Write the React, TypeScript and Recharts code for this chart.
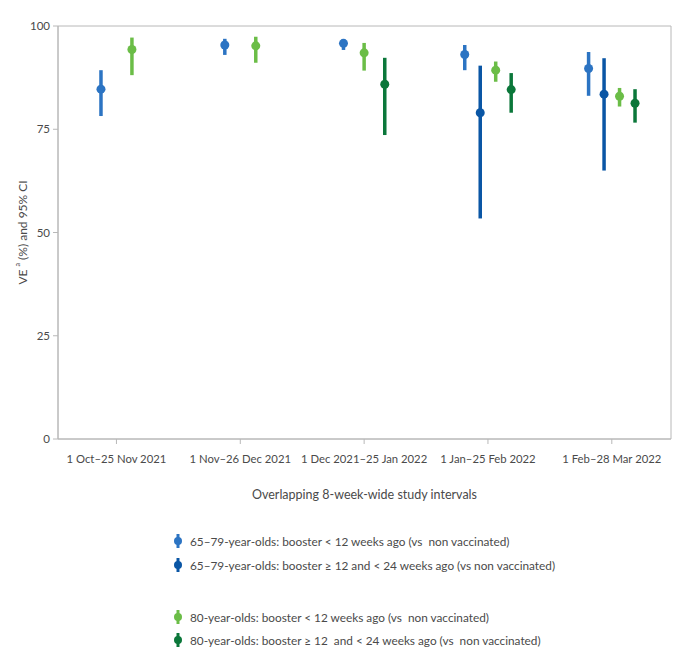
import React from "react";
import {
  ComposedChart,
  Scatter,
  ErrorBar,
  XAxis,
  YAxis,
  ReferenceArea,
  Label,
} from "recharts";

// Overlapping 8-week study intervals
const intervals = [
  "1 Oct–25 Nov 2021",
  "1 Nov–26 Dec 2021",
  "1 Dec 2021–25 Jan 2022",
  "1 Jan–25 Feb 2022",
  "1 Feb–28 Mar 2022",
];

const yTicks = [0, 25, 50, 75, 100];

// VE (%) point estimates and 95% CI bounds, null = not estimated
const ve6579Recent = [84.7, 95.4, 95.8, 93.1, 89.7];
const lo6579Recent = [78.2, 93.0, 94.2, 89.3, 83.1];
const hi6579Recent = [89.3, 96.9, 96.8, 95.4, 93.7];

const ve6579Older = [null, null, null, 79.0, 83.5];
const lo6579Older = [null, null, null, 53.4, 65.0];
const hi6579Older = [null, null, null, 90.4, 92.2];

const ve80Recent = [94.3, 95.2, 93.5, 89.3, 83.0];
const lo80Recent = [88.1, 91.1, 89.2, 86.5, 80.5];
const hi80Recent = [97.2, 97.4, 95.9, 91.4, 85.0];

const ve80Older = [null, null, 85.9, 84.6, 81.3];
const lo80Older = [null, null, 73.6, 79.0, 76.6];
const hi80Older = [null, null, 92.3, 88.6, 84.7];

type Num = number | null;

const series: {
  key: string;
  name: string;
  color: string;
  ve: Num[];
  lo: Num[];
  hi: Num[];
}[] = [
  {
    key: "s1",
    name: "65–79-year-olds: booster < 12 weeks ago (vs  non vaccinated)",
    color: "#2c74c3",
    ve: ve6579Recent,
    lo: lo6579Recent,
    hi: hi6579Recent,
  },
  {
    key: "s2",
    name: "65–79-year-olds: booster ≥ 12 and < 24 weeks ago (vs non vaccinated)",
    color: "#0a56a5",
    ve: ve6579Older,
    lo: lo6579Older,
    hi: hi6579Older,
  },
  {
    key: "s3",
    name: "80-year-olds: booster < 12 weeks ago (vs  non vaccinated)",
    color: "#6bbd47",
    ve: ve80Recent,
    lo: lo80Recent,
    hi: hi80Recent,
  },
  {
    key: "s4",
    name: "80-year-olds: booster ≥ 12  and < 24 weeks ago (vs  non vaccinated)",
    color: "#0b773a",
    ve: ve80Older,
    lo: lo80Older,
    hi: hi80Older,
  },
];

const FONT = "Lato, 'Open Sans', sans-serif";
const TEXT = "#4a4a4a";
const AXIS = "#b8b8b8";
const GROUP = 0.5; // share of a category occupied by its cluster
const X_DOMAIN = [0.028, 4.978];

// cluster only the series that have a value in each interval
function buildSeriesData() {
  return series.map((s) =>
    intervals
      .map((_, ci) => {
        if (s.ve[ci] == null) return null;
        const present = series.filter((o) => o.ve[ci] != null);
        const j = present.findIndex((o) => o.key === s.key);
        const n = present.length;
        const off = (j - (n - 1) / 2) * (GROUP / n);
        const v = s.ve[ci] as number;
        return {
          x: ci + 0.5 + off,
          y: v,
          err: [v - (s.lo[ci] as number), (s.hi[ci] as number) - v],
        };
      })
      .filter(Boolean)
  );
}

const Dot = (color: string) => (props: any) =>
  <circle cx={props.cx} cy={props.cy} r={4.5} fill={color} />;

const YLabel = (props: any) => {
  const vb = props.viewBox;
  const cx = 22;
  const cy = vb.y + vb.height / 2;
  return (
    <text
      x={cx}
      y={cy}
      transform={`rotate(-90 ${cx} ${cy})`}
      textAnchor="middle"
      dominantBaseline="central"
      fontFamily={FONT}
      fontSize={12}
      fill={TEXT}
    >
      VE <tspan fontSize={7} dy={-5}>a</tspan>
      <tspan dy={5}> (%) and 95% CI</tspan>
    </text>
  );
};

function LegendMark({ color }: { color: string }) {
  return (
    <svg width={10} height={16} style={{ display: "block" }}>
      <line x1={5} y1={1} x2={5} y2={15} stroke={color} strokeWidth={3} />
      <circle cx={5} cy={8} r={4} fill={color} />
    </svg>
  );
}

export default function App() {
  const data = buildSeriesData();
  const rowTops = [533, 557, 609, 632];

  return (
    <div
      style={{
        position: "absolute",
        left: 0,
        top: 0,
        width: 698,
        height: 664,
        background: "#fff",
      }}
    >
      <ComposedChart
        width={698}
        height={664}
        margin={{ top: 26, right: 27, bottom: 165, left: 18 }}
      >
        <ReferenceArea
          x1={X_DOMAIN[0]}
          x2={X_DOMAIN[1]}
          y1={0}
          y2={100}
          fill="none"
          stroke={AXIS}
          strokeWidth={1}
        />
        <XAxis
          type="number"
          dataKey="x"
          domain={X_DOMAIN}
          ticks={[0.5, 1.5, 2.5, 3.5, 4.5]}
          tickFormatter={(v: number) => intervals[Math.floor(v)]}
          stroke={AXIS}
          tickSize={5}
          tickMargin={11}
          tick={{ fontFamily: FONT, fontSize: 11.3, fill: TEXT }}
          height={60}
          allowDataOverflow
        >
          <Label
            value="Overlapping 8-week-wide study intervals"
            position="insideBottom"
            offset={0}
            style={{ fontFamily: FONT, fontSize: 12.5, fill: TEXT }}
          />
        </XAxis>
        <YAxis
          type="number"
          domain={[0, 100]}
          ticks={yTicks}
          width={40}
          stroke={AXIS}
          tickSize={5}
          tickMargin={3}
          tick={{ fontFamily: FONT, fontSize: 11.5, fill: TEXT }}
          label={<YLabel />}
        />
        {series.map((s, i) => (
          <Scatter
            key={s.key}
            data={data[i] as any[]}
            dataKey="y"
            fill={s.color}
            shape={Dot(s.color)}
            isAnimationActive={false}
          >
            <ErrorBar
              dataKey="err"
              direction="y"
              width={0}
              stroke={s.color}
              strokeWidth={3.5}
              isAnimationActive={false}
            />
          </Scatter>
        ))}
      </ComposedChart>

      {series.map((s, i) => (
        <div
          key={s.key}
          style={{
            position: "absolute",
            left: 173,
            top: rowTops[i],
            display: "flex",
            alignItems: "center",
            gap: 7,
            fontFamily: FONT,
            fontSize: 11.8,
            color: TEXT,
            whiteSpace: "pre",
          }}
        >
          <LegendMark color={s.color} />
          <span>{s.name}</span>
        </div>
      ))}
    </div>
  );
}
